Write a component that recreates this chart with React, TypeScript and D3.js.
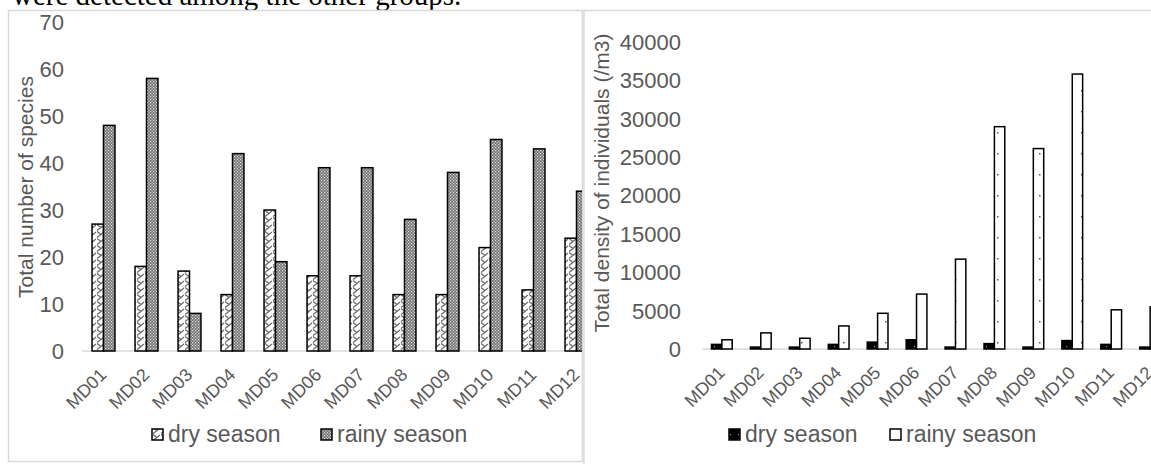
import * as d3 from "d3";

const sites = ["MD01", "MD02", "MD03", "MD04", "MD05", "MD06", "MD07", "MD08", "MD09", "MD10", "MD11", "MD12"];
const drySpecies = [27, 18, 17, 12, 30, 16, 16, 12, 12, 22, 13, 24];
const rainySpecies = [48, 58, 8, 42, 19, 39, 39, 28, 38, 45, 43, 34];
const dryDensity = [600, 250, 250, 600, 900, 1200, 250, 700, 250, 1100, 600, 250];
const rainyDensity = [1200, 2100, 1400, 3000, 4650, 7150, 11700, 28950, 26100, 35800, 5100, 5500];
const speciesTicks = [0, 10, 20, 30, 40, 50, 60, 70];
const densityTicks = [0, 5000, 10000, 15000, 20000, 25000, 30000, 35000, 40000];
const seasons = ["dry season", "rainy season"];

const W = 1151;
const H = 464;
const FONT = "Arial, 'Liberation Sans', sans-serif";
const GREY = "#595959";

type PanelProps = {
  x0: number;
  x1: number;
  base: number;
  top: number;
  max: number;
  ticks: number[];
  tickX: number;
  dry: number[];
  rainy: number[];
  fills: [string, string];
  title: string;
  titleX: number;
  titleY: number;
  clipRight: number;
  clipId: string;
  legendX: [number, number];
};

function Panel(p: PanelProps) {
  const x = d3.scaleBand<string>().domain(sites).range([p.x0, p.x1]).paddingInner(0.467).paddingOuter(0.2335);
  const inner = d3.scaleBand<string>().domain(seasons).range([0, x.bandwidth()]);
  const y = d3.scaleLinear().domain([0, p.max]).range([p.base, p.top]);
  const series = [p.dry, p.rainy];
  return (
    <g>
      <clipPath id={p.clipId}>
        <rect x={0} y={0} width={p.clipRight} height={H} />
      </clipPath>
      {p.ticks.map((t) => (
        <text key={t} x={p.tickX} y={y(t)} dy="0.36em" textAnchor="end" fontSize={22} fill={GREY} fontFamily={FONT}>
          {t}
        </text>
      ))}
      <text
        transform={`translate(${p.titleX},${p.titleY}) rotate(-90)`}
        textAnchor="middle"
        fontSize={21}
        fill={GREY}
        fontFamily={FONT}
      >
        {p.title}
      </text>
      <g clipPath={`url(#${p.clipId})`}>
        <line x1={p.x0} x2={p.x1} y1={p.base} y2={p.base} stroke="#d9d9d9" strokeWidth={1.5} />
        {sites.map((s, i) =>
          seasons.map((se, k) => {
            const v = series[k][i];
            const bx = x(s)! + inner(se)!;
            return (
              <rect
                key={s + se}
                x={bx}
                y={y(v)}
                width={inner.bandwidth()}
                height={p.base - y(v)}
                fill={p.fills[k]}
                stroke="#000"
                strokeWidth={1.5}
              />
            );
          })
        )}
        {sites.map((s) => {
          const cx = x(s)! + x.bandwidth() / 2;
          return (
            <text
              key={s}
              transform={`translate(${cx + 4},${p.base + 25}) rotate(-45)`}
              textAnchor="end"
              fontSize={18}
              fill={GREY}
              fontFamily={FONT}
            >
              {s}
            </text>
          );
        })}
      </g>
      {seasons.map((se, k) => (
        <g key={se}>
          <rect x={p.legendX[k]} y={429} width={11} height={11} fill={p.fills[k]} stroke="#000" strokeWidth={1.5} />
          <text x={p.legendX[k] + 16} y={442} fontSize={23} fill={GREY} fontFamily={FONT}>
            {se}
          </text>
        </g>
      ))}
    </g>
  );
}

export default function App() {
  return (
    <svg width={W} height={H} style={{ position: "absolute", left: 0, top: 0, background: "#fff" }}>
      <defs>
        <pattern id="zig" width={8} height={7} patternUnits="userSpaceOnUse">
          <rect width={8} height={7} fill="#fff" />
          <path d="M1,0.5 L5,3.5 L1,6.5 M5,3.5 L8,1" stroke="#666" strokeWidth={1.2} fill="none" />
        </pattern>
        <pattern id="dots" width={3} height={3} patternUnits="userSpaceOnUse">
          <rect width={3} height={3} fill="#6e6e6e" />
          <rect x={0} y={0} width={1.2} height={1.2} fill="#e6e6e6" />
          <rect x={1.5} y={1.5} width={1.2} height={1.2} fill="#e6e6e6" />
        </pattern>
        <pattern id="blackdots" width={8} height={8} patternUnits="userSpaceOnUse">
          <rect width={8} height={8} fill="#000" />
          <rect x={2} y={2} width={1.2} height={1.2} fill="#999" />
        </pattern>
        <pattern id="sparse" width={14} height={21} patternUnits="userSpaceOnUse">
          <rect width={14} height={21} fill="#fff" />
          <rect x={3} y={6} width={1.5} height={1.5} fill="#555" />
        </pattern>
      </defs>
      <text x={12} y={5} fontSize={29} fontFamily="'Liberation Serif', 'Times New Roman', serif" fill="#000">
        were detected among the other groups.
      </text>
      <rect x={8.5} y={10.5} width={574} height={451} fill="none" stroke="#d9d9d9" strokeWidth={1.5} />
      <rect x={584} y={10.5} width={600} height={470} fill="none" stroke="#d9d9d9" strokeWidth={1.5} />
      <Panel
        x0={82}
        x1={598}
        base={351}
        top={22}
        max={70}
        ticks={speciesTicks}
        tickX={64}
        dry={drySpecies}
        rainy={rainySpecies}
        fills={["url(#zig)", "url(#dots)"]}
        title="Total number of species"
        titleX={33}
        titleY={187}
        clipRight={582}
        clipId="clipL"
        legendX={[152, 321]}
      />
      <Panel
        x0={702.4}
        x1={1169.6}
        base={349}
        top={41.8}
        max={40000}
        ticks={densityTicks}
        tickX={681}
        dry={dryDensity}
        rainy={rainyDensity}
        fills={["url(#blackdots)", "url(#sparse)"]}
        title="Total density of individuals (/m3)"
        titleX={609}
        titleY={183}
        clipRight={W}
        clipId="clipR"
        legendX={[729, 890]}
      />
    </svg>
  );
}
